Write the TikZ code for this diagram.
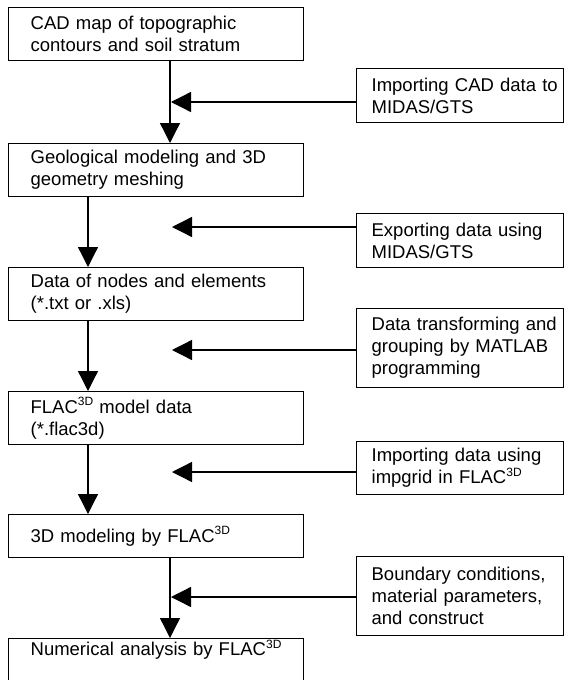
\documentclass[tikz,border=0pt]{standalone}
\usepackage{fontspec}
\setmainfont{Liberation Sans}
\usetikzlibrary{arrows.meta,calc}

\newcommand{\tdsup}{\raisebox{7.5pt}{\fontsize{12}{12}\selectfont 3D}}

\tikzset{
  box/.style={draw, line width=1.3pt, anchor=north west, align=left,
    inner xsep=0pt, inner ysep=3.5pt, font=\fontsize{18.5}{22}\selectfont},
  leftbox/.style={box, minimum width=295pt, text width=251pt},
  rightbox/.style={box, minimum width=207pt, text width=204pt,
    execute at begin node={\leftskip=13.5pt}},
  arr/.style={line width=1.3pt, -{Triangle[length=20pt,width=20pt]}}
}

\begin{document}
\begin{tikzpicture}[x=1pt,y=-1pt]
\useasboundingbox (0,0) rectangle (565,680);

% Main steps
\node[leftbox, minimum height=53pt] (b1) at (8,7) {CAD map of topographic\\contours and soil stratum};
\node[leftbox, minimum height=53pt] (b2) at (8,143) {Geological modeling and 3D\\geometry meshing};
\node[leftbox, minimum height=53pt] (b3) at (8,267) {Data of nodes and elements\\(*.txt or .xls)};
\node[leftbox, minimum height=53pt] (b4) at (8,391) {FLAC\tdsup{} model data\\(*.flac3d)};
\node[leftbox, minimum height=43pt] (b5) at (8,514) {3D modeling by FLAC\tdsup};
\node[leftbox, text height=13.5pt, text depth=40pt] (b6) at (8,638) {Numerical analysis by FLAC\tdsup};

% Side operations
\node[rightbox, minimum height=54pt] (r1) at (356,68) {Importing CAD data to\\MIDAS/GTS};
\node[rightbox, minimum height=54pt] (r2) at (356,213) {Exporting data using\\MIDAS/GTS};
\node[rightbox, minimum height=79pt] (r3) at (356,308) {Data transforming and\\grouping by MATLAB\\programming};
\node[rightbox, minimum height=53pt] (r4) at (356,441) {Importing data using\\impgrid in FLAC\tdsup};
\node[rightbox, minimum height=79pt] (r5) at (356,556) {Boundary conditions,\\material parameters,\\and construct};

% Flow downward
\draw[arr] ($(b1.south west)+(162,0)$) -- ($(b2.north west)+(162,0)$);
\draw[arr] ($(b2.south west)+(80,0)$) -- ($(b3.north west)+(80,0)$);
\draw[arr] ($(b3.south west)+(80,0)$) -- ($(b4.north west)+(80,0)$);
\draw[arr] ($(b4.south west)+(80,0)$) -- ($(b5.north west)+(80,0)$);
\draw[arr] ($(b5.south west)+(162,0)$) -- ($(b6.north west)+(162,0)$);

% Inputs from the side
\coordinate (h1) at (171,102);
\coordinate (h2) at (172,227);
\coordinate (h3) at (172,350);
\coordinate (h4) at (172,472);
\coordinate (h5) at (171,597);
\draw[arr] (r1.west |- h1) -- (h1);
\draw[arr] (r2.west |- h2) -- (h2);
\draw[arr] (r3.west |- h3) -- (h3);
\draw[arr] (r4.west |- h4) -- (h4);
\draw[arr] (r5.west |- h5) -- (h5);
\end{tikzpicture}
\end{document}
